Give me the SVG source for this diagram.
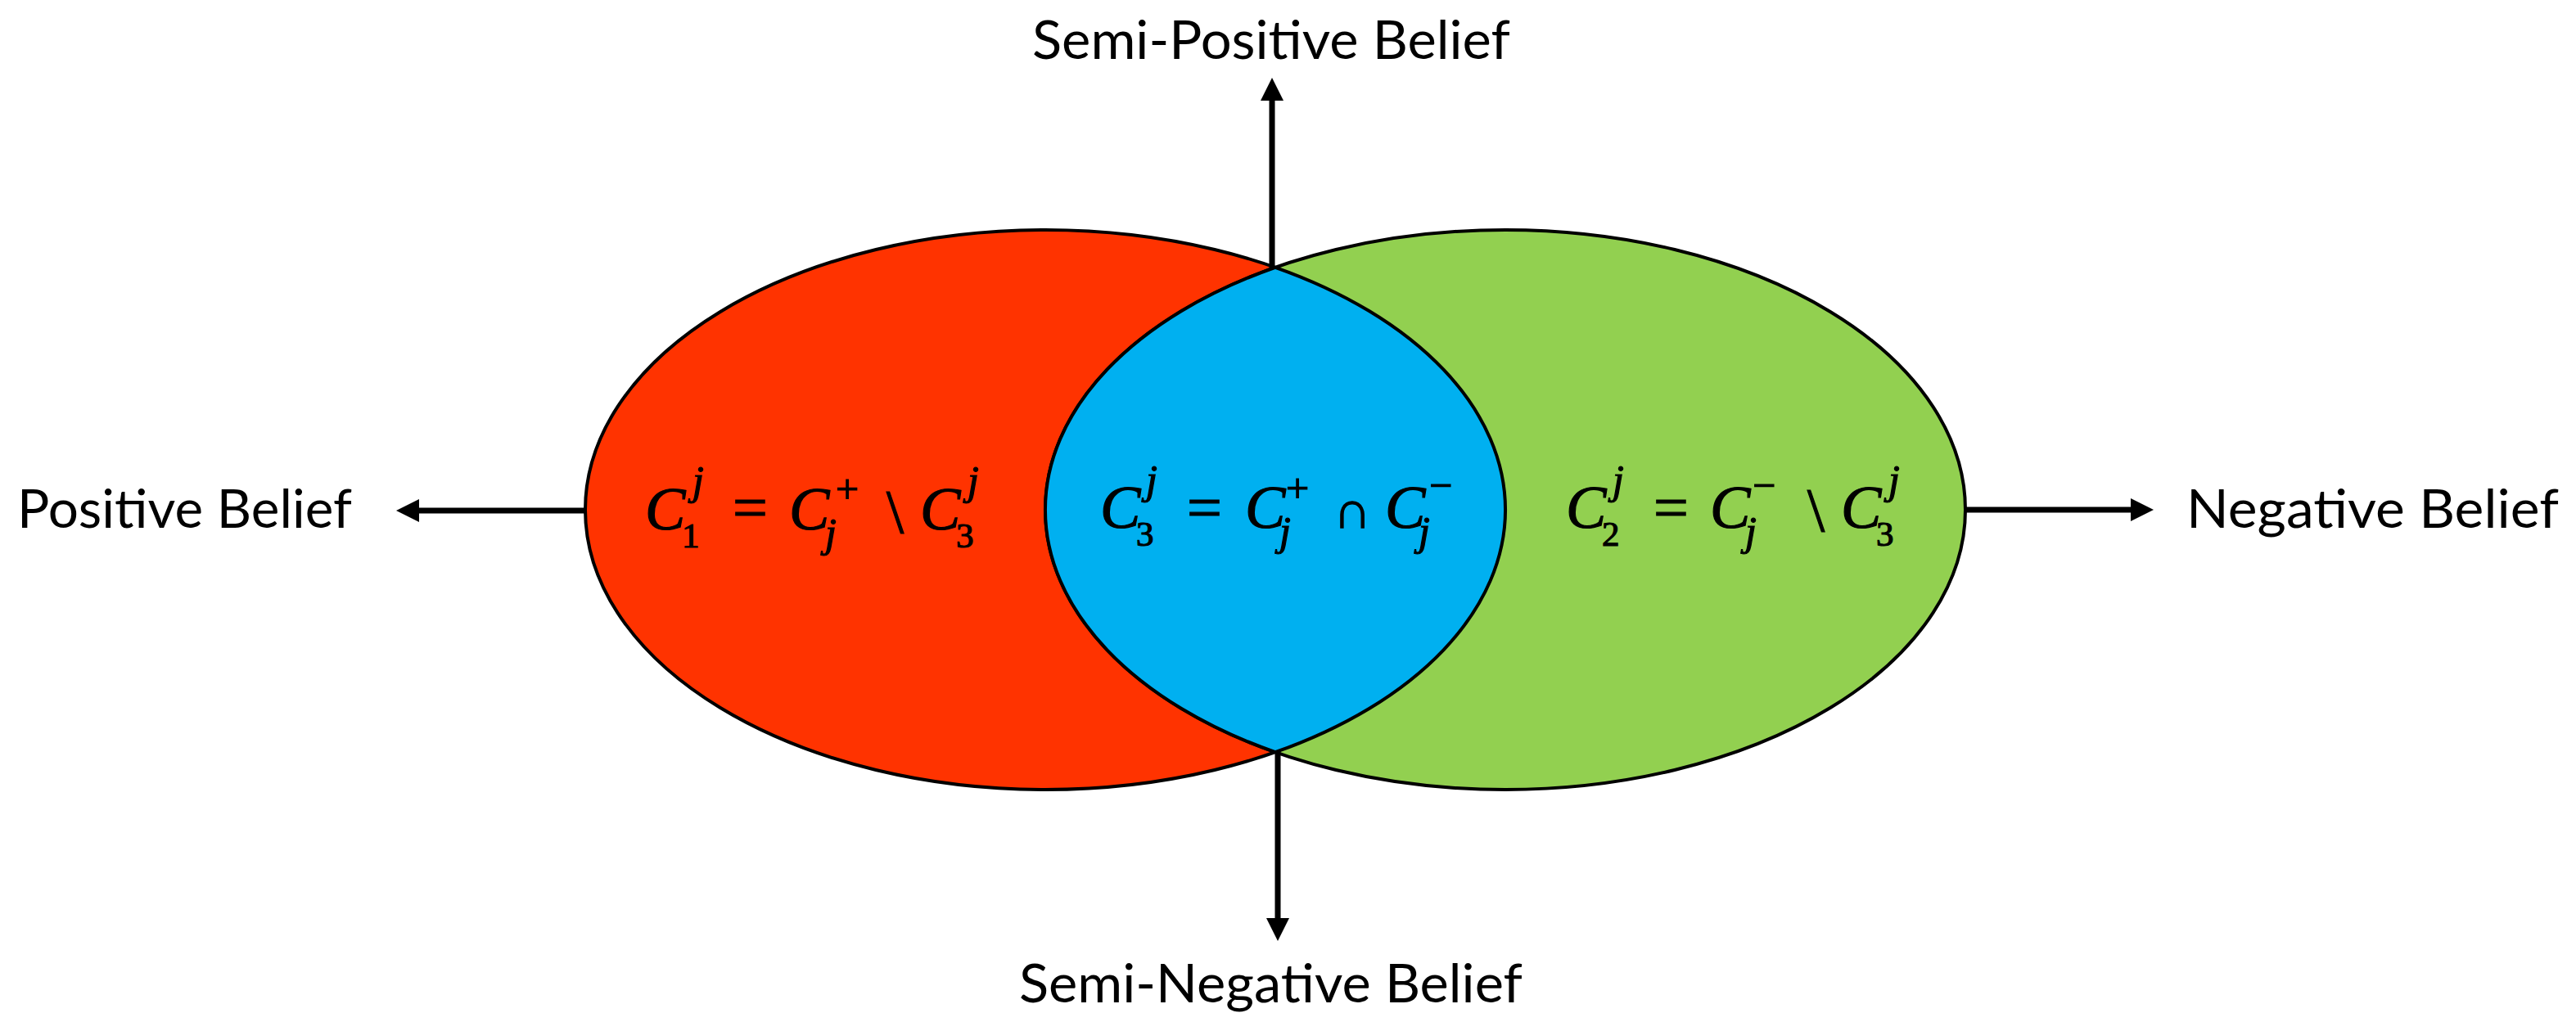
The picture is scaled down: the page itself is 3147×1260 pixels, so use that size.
<svg xmlns="http://www.w3.org/2000/svg" width="3147" height="1260" viewBox="0 0 3147 1260">
  <style>
    .shape { stroke: #000; stroke-width: 4; }
    .label { font-family: Lato, "Liberation Sans", sans-serif; font-size: 66px; fill: #000; }
    .math { font-family: "Liberation Serif", "DejaVu Serif", serif; fill: #000; stroke: #000; stroke-width: 1.2; }
    .it { font-style: italic; font-size: 74px; }
    .sc { font-style: italic; font-size: 50px; }
    .num { font-style: normal; font-size: 43px; }
    .op { font-style: normal; font-size: 76px; }
    .opS { font-style: normal; font-size: 50px; }
    .conn { stroke: #000; stroke-width: 7; fill: none; }
  </style>
  <defs>
    <marker id="arrow" markerUnits="userSpaceOnUse" markerWidth="28" markerHeight="28" viewBox="0 0 28 28" refX="0" refY="14" orient="auto">
      <path d="M0,0 L28,14 L0,28 Z" fill="#000"/>
    </marker>
  </defs>

  <g id="positive-set">
    <ellipse class="shape" cx="1277" cy="623" rx="562" ry="342" fill="#FF3300"/>
  </g>
  <g id="negative-set">
    <ellipse class="shape" cx="1839" cy="623" rx="562" ry="342" fill="#92D050"/>
  </g>
  <g id="intersection">
    <path class="shape" d="M1558,326.8 A562,342 0 0 0 1558,919.2 A562,342 0 0 0 1558,326.8 Z" fill="#00B0F0"/>
  </g>

  <g id="eq-c1">
    <text class="math">
      <tspan class="it" x="788" y="647">C</tspan>
      <tspan class="sc" x="846" y="604">j</tspan>
      <tspan class="num" x="833" y="669">1</tspan>
      <tspan class="op" x="895" y="646">=</tspan>
      <tspan class="it" x="964" y="647">C</tspan>
      <tspan class="opS" x="1021" y="615">+</tspan>
      <tspan class="sc" x="1008" y="668">j</tspan>
      <tspan class="op" x="1083" y="651">\</tspan>
      <tspan class="it" x="1124" y="647">C</tspan>
      <tspan class="sc" x="1182" y="604">j</tspan>
      <tspan class="num" x="1168" y="669">3</tspan>
    </text>
  </g>
  <g id="eq-c3">
    <text class="math">
      <tspan class="it" x="1344" y="645">C</tspan>
      <tspan class="sc" x="1400" y="603">j</tspan>
      <tspan class="num" x="1388" y="667">3</tspan>
      <tspan class="op" x="1450" y="646">=</tspan>
      <tspan class="it" x="1521" y="645">C</tspan>
      <tspan class="opS" x="1571" y="614">+</tspan>
      <tspan class="sc" x="1563" y="666">j</tspan>
      <tspan class="opS" x="1629" y="645" style="font-size:64px">∩</tspan>
      <tspan class="it" x="1692" y="645">C</tspan>
      <tspan class="opS" x="1746" y="610">−</tspan>
      <tspan class="sc" x="1733" y="666">j</tspan>
    </text>
  </g>
  <g id="eq-c2">
    <text class="math">
      <tspan class="it" x="1913" y="645">C</tspan>
      <tspan class="sc" x="1970" y="603">j</tspan>
      <tspan class="num" x="1957" y="667">2</tspan>
      <tspan class="op" x="2020" y="646">=</tspan>
      <tspan class="it" x="2089" y="645">C</tspan>
      <tspan class="opS" x="2141" y="610">−</tspan>
      <tspan class="sc" x="2132" y="666">j</tspan>
      <tspan class="op" x="2208" y="649">\</tspan>
      <tspan class="it" x="2249" y="645">C</tspan>
      <tspan class="sc" x="2307" y="603">j</tspan>
      <tspan class="num" x="2292" y="667">3</tspan>
    </text>
  </g>

  <g id="connectors">
    <line class="conn" x1="715" y1="624" x2="512" y2="624" marker-end="url(#arrow)"/>
    <line class="conn" x1="2400" y1="623" x2="2603" y2="623" marker-end="url(#arrow)"/>
    <line class="conn" x1="1554" y1="327" x2="1554" y2="123" marker-end="url(#arrow)"/>
    <line class="conn" x1="1561" y1="918" x2="1561" y2="1122" marker-end="url(#arrow)"/>
  </g>

  <g id="label-positive">
    <text class="label" x="21" y="645" textLength="409" lengthAdjust="spacingAndGlyphs">Positive Belief</text>
  </g>
  <g id="label-negative">
    <text class="label" x="2671" y="645" textLength="455" lengthAdjust="spacingAndGlyphs">Negative Belief</text>
  </g>
  <g id="label-semi-positive">
    <text class="label" x="1261" y="72" textLength="584" lengthAdjust="spacingAndGlyphs">Semi-Positive Belief</text>
  </g>
  <g id="label-semi-negative">
    <text class="label" x="1245" y="1225" textLength="615" lengthAdjust="spacingAndGlyphs">Semi-Negative Belief</text>
  </g>
</svg>
